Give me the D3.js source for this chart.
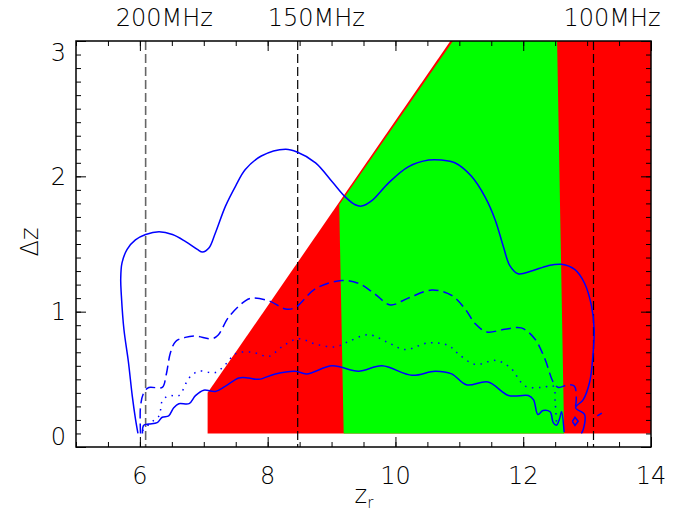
<!DOCTYPE html>
<html>
<head>
<meta charset="utf-8">
<script src="https://cdn.jsdelivr.net/npm/d3@7"></script>
<style>
body { margin: 0; background: #fff; }
text { font-family: "DejaVu Sans", sans-serif; font-weight: 200; fill: #000; }
</style>
</head>
<body>
<svg id="chart" width="681" height="518"></svg>
<script>
// contour curves, [z_r, delta z]
var outerCurve = [[5.97,0.10],[5.93,0.21],[5.88,0.38],[5.82,0.63],[5.75,0.87],[5.71,1.12],[5.70,1.24],[5.72,1.36],
    [5.80,1.46],[5.93,1.53],[6.09,1.57],[6.30,1.59],[6.51,1.57],[6.71,1.52],[6.90,1.46],[6.98,1.44],[7.08,1.47],
    [7.18,1.58],[7.34,1.78],[7.50,1.93],[7.65,2.05],[7.90,2.15],[8.28,2.20],[8.46,2.18],[8.75,2.10],
    [9.01,1.96],[9.21,1.85],[9.37,1.79],[9.47,1.78],[9.63,1.82],[9.89,1.95],[10.20,2.07],[10.52,2.12],[10.72,2.12],
    [10.93,2.10],[11.19,2.00],[11.40,1.85],[11.56,1.68],[11.69,1.48],[11.79,1.34],[11.92,1.28],[12.13,1.30],
    [12.39,1.34],[12.60,1.35],[12.81,1.31],[12.96,1.21],[13.07,1.04],[13.11,0.87],[13.09,0.67],[13.04,0.48],
    [12.94,0.35],[12.82,0.29],[12.96,0.24],[12.94,0.13],[12.91,0.10]];
var dashedCurve = [[6.01,0.10],[6.01,0.30],[6.06,0.40],[6.14,0.44],[6.35,0.44],[6.41,0.53],[6.48,0.70],[6.56,0.78],
    [6.71,0.81],[6.87,0.82],[7.13,0.80],[7.23,0.83],[7.39,0.96],[7.65,1.08],[7.76,1.10],[8.02,1.08],[8.28,1.02],
    [8.43,1.03],[8.75,1.17],[9.16,1.23],[9.42,1.21],[9.68,1.13],[9.92,1.05],[10.20,1.10],[10.57,1.16],[10.88,1.12],
    [11.09,1.02],[11.25,0.91],[11.43,0.85],[11.71,0.87],[11.97,0.88],[12.18,0.80],[12.34,0.65],[12.47,0.48],
    [12.55,0.44],[12.70,0.46],[12.80,0.45],[12.83,0.35],[12.81,0.28]];
var dashedTail = [[13.16,0.23],[13.23,0.25]];
var dottedCurve = [[6.04,0.12],[6.17,0.18],[6.30,0.23],[6.35,0.34],[6.45,0.38],[6.61,0.38],[6.77,0.51],[6.92,0.56],
    [7.18,0.55],[7.34,0.61],[7.50,0.69],[7.76,0.70],[8.02,0.67],[8.22,0.74],[8.48,0.80],[8.75,0.76],[9.06,0.74],
    [9.27,0.78],[9.58,0.83],[9.89,0.77],[10.15,0.72],[10.52,0.77],[10.83,0.75],[10.98,0.69],[11.25,0.61],
    [11.56,0.64],[11.79,0.59],[12.03,0.45],[12.29,0.44],[12.47,0.45],[12.50,0.33],[12.52,0.18]];
var innerCurve = [[6.04,0.10],[6.06,0.16],[6.14,0.17],[6.27,0.18],[6.35,0.22],[6.45,0.23],[6.53,0.29],[6.61,0.32],
    [6.77,0.32],[6.87,0.38],[7.00,0.42],[7.18,0.41],[7.34,0.45],[7.55,0.51],[7.70,0.51],[7.86,0.50],[8.12,0.54],
    [8.43,0.56],[8.61,0.54],[9.01,0.60],[9.42,0.56],[9.79,0.60],[10.26,0.53],[10.62,0.56],[10.88,0.54],[11.11,0.46],
    [11.45,0.48],[11.77,0.38],[12.08,0.38],[12.16,0.35],[12.23,0.24],[12.31,0.27],[12.42,0.26],[12.47,0.18],
    [12.52,0.16],[12.57,0.21],[12.60,0.26],[12.64,0.11]];
var smallLoop = [[12.77,0.19],[12.81,0.22],[12.86,0.19],[12.81,0.16],[12.77,0.19]];

// shaded regions
var redRegion = [[7.06,0.10],[7.06,0.40],[10.86,3.0],[14,3.0],[14,0.10]];
var greenRegion = [[9.19,0.10],[9.12,1.79],[10.90,3.0],[12.53,3.0],[12.64,0.10]];

// frequency markers
var freqLabels = ["200MHz", "150MHz", "100MHz"];
var freqZ = [6.09, 8.47, 13.10];

// axis ticks
var xMajor = [6, 8, 10, 12, 14];
var yMajor = [0, 1, 2, 3];

var L = 76, R = 651, T = 41, B = 447;
var svg = d3.select("#chart");
var x = d3.scaleLinear().domain([5, 14]).range([L, R]);
var y = d3.scaleLinear().domain([0, 3]).range([B, T]);
var xMinor = d3.range(5, 14.001, 0.5);
var yMinor = d3.range(0, 3.001, 0.1);

var line = d3.line().x(function (d) { return x(d[0]); }).y(function (d) { return y(d[1]); });
var smooth = d3.line().x(function (d) { return x(d[0]); }).y(function (d) { return y(d[1]); })
    .curve(d3.curveCatmullRom.alpha(0.5));

svg.append("path").attr("d", line(redRegion) + "Z").attr("fill", "#ff0000");
svg.append("path").attr("d", line(greenRegion) + "Z").attr("fill", "#00ff00");

// vertical frequency lines
freqZ.forEach(function (z, i) {
    svg.append("line")
        .attr("x1", x(z)).attr("x2", x(z))
        .attr("y1", T).attr("y2", B)
        .attr("stroke", i == 0 ? "#666" : "#000")
        .attr("stroke-width", i == 0 ? 1.6 : 1.2)
        .attr("stroke-dasharray", "9,4");
    svg.append("text")
        .attr("x", x(z) - 30).attr("y", 26)
        .style("font-size", "24px")
        .text(freqLabels[i]);
});

function curve(data, dash, gen) {
    svg.append("path").attr("d", (gen || smooth)(data))
        .attr("fill", "none").attr("stroke", "#0000ff")
        .attr("stroke-width", 1.5)
        .attr("stroke-dasharray", dash);
}
curve(outerCurve, null);
curve(dashedCurve, "10,5");
curve(dashedTail, null, line);
curve(dottedCurve, "1.5,5.5");
curve(innerCurve, null);
curve(smallLoop, null, line);

// ticks on all four sides, pointing inwards
function ticks(axis, scale, vals, size, tr) {
    svg.append("g").attr("transform", tr)
        .call(axis(scale).tickValues(vals).tickSize(size).tickFormat(""))
        .call(function (g) { g.select(".domain").remove(); })
        .selectAll("line").attr("stroke", "#000").attr("stroke-width", 1);
}
ticks(d3.axisBottom, x, xMinor, -5, "translate(0," + B + ")");
ticks(d3.axisBottom, x, xMajor, -10, "translate(0," + B + ")");
ticks(d3.axisTop, x, xMinor, -5, "translate(0," + T + ")");
ticks(d3.axisTop, x, xMajor, -10, "translate(0," + T + ")");
ticks(d3.axisLeft, y, yMinor, -5, "translate(" + L + ",0)");
ticks(d3.axisLeft, y, yMajor, -10, "translate(" + L + ",0)");
ticks(d3.axisRight, y, yMinor, -5, "translate(" + R + ",0)");
ticks(d3.axisRight, y, yMajor, -10, "translate(" + R + ",0)");

svg.append("rect").attr("x", L).attr("y", T).attr("width", R - L).attr("height", B - T)
    .attr("fill", "none").attr("stroke", "#000").attr("stroke-width", 1.5);

// tick labels
svg.selectAll(".xl").data(xMajor).enter().append("text")
    .attr("x", function (d) { return x(d); }).attr("y", 484)
    .attr("text-anchor", "middle").style("font-size", "24px")
    .text(function (d) { return d; });
svg.selectAll(".yl").data(yMajor).enter().append("text")
    .attr("x", 66)
    .attr("y", function (d) { return Math.min(Math.max(y(d), T + 11), B - 11) + 8.5; })
    .attr("text-anchor", "end").style("font-size", "24px")
    .text(function (d) { return d; });

// axis titles
var xt = svg.append("text").attr("x", 364).attr("y", 503).attr("text-anchor", "middle")
    .style("font-size", "24px");
xt.append("tspan").text("z");
xt.append("tspan").attr("dy", 5).style("font-size", "15px").text("r");
svg.append("text").attr("transform", "translate(38,242) rotate(-90)")
    .attr("text-anchor", "middle").style("font-size", "24px").text("Δz");
</script>
</body>
</html>
